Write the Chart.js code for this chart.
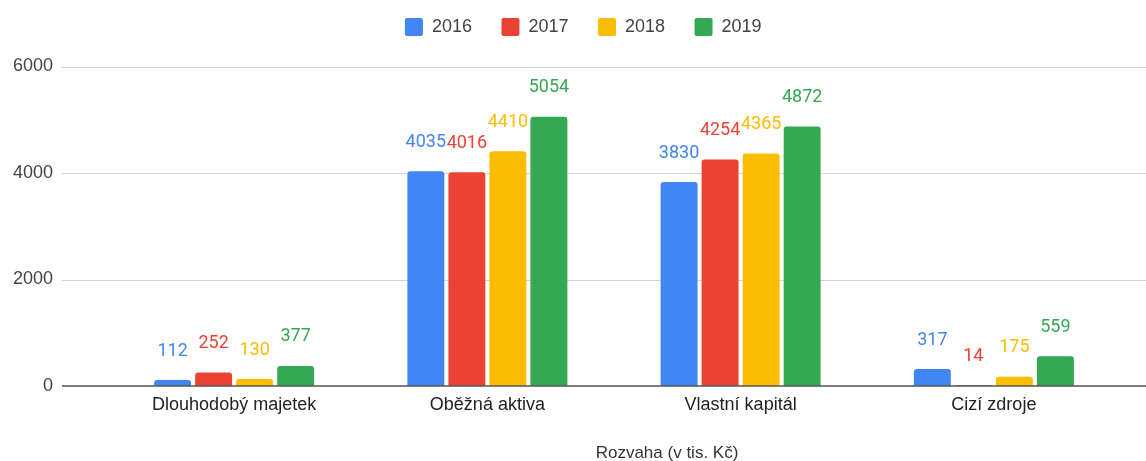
<!DOCTYPE html>
<html><head><meta charset="utf-8">
<script src="https://cdn.jsdelivr.net/npm/chart.js@4/dist/chart.umd.min.js"></script>
<style>html,body{margin:0;padding:0;background:#fff;overflow:hidden}#wrap{width:1146px;height:461px;position:relative}</style>
</head><body><div id="wrap"><canvas id="c" width="1146" height="461"></canvas></div>
<script>
const categories = ['Dlouhodobý majetek', 'Oběžná aktiva', 'Vlastní kapitál', 'Cizí zdroje'];
const seriesNames = ['2016', '2017', '2018', '2019'];
const values2016 = [112, 4035, 3830, 317];
const values2017 = [252, 4016, 4254, 14];
const values2018 = [130, 4410, 4365, 175];
const values2019 = [377, 5054, 4872, 559];
const yTicks = [0, 2000, 4000, 6000];
const xAxisTitle = 'Rozvaha (v tis. Kč)';

const seriesValues = [values2016, values2017, values2018, values2019];
const colors = ['#4285F4', '#EA4335', '#FBBC04', '#34A853'];
const baseFont = "'Liberation Sans', Arial, sans-serif";

const decorPlugin = {
  id: 'decor',
  afterLayout(chart) {
    // the original legend sits centred on a slightly wider canvas
    chart.legend.left += 23;
    chart.legend.right += 23;
  },
  beforeDatasetsDraw(chart) {
    const y = chart.scales.y, ctx = chart.ctx, area = chart.chartArea;
    ctx.save();
    ctx.strokeStyle = '#d4d4d4';
    ctx.lineWidth = 1;
    y.ticks.forEach(t => {
      if (t.value === 0) return;
      const py = Math.round(y.getPixelForValue(t.value)) + 0.5;
      ctx.beginPath();
      ctx.moveTo(area.left - 45.5, py);
      ctx.lineTo(chart.width, py);
      ctx.stroke();
    });
    ctx.restore();
  },
  afterDatasetsDraw(chart) {
    const y = chart.scales.y, ctx = chart.ctx, area = chart.chartArea;
    ctx.save();
    const p0 = y.getPixelForValue(0);
    ctx.strokeStyle = '#555';
    ctx.lineWidth = 1.6;
    ctx.beginPath();
    ctx.moveTo(area.left - 45.5, p0);
    ctx.lineTo(chart.width, p0);
    ctx.stroke();

    ctx.font = "18px Roboto, 'Liberation Sans', sans-serif";
    ctx.textAlign = 'center';
    ctx.textBaseline = 'middle';
    ctx.lineJoin = 'round';
    chart.data.datasets.forEach((ds, i) => {
      const meta = chart.getDatasetMeta(i);
      meta.data.forEach((bar, j) => {
        const txt = String(ds.data[j]);
        ctx.lineWidth = 4;
        ctx.strokeStyle = '#fff';
        ctx.strokeText(txt, bar.x, bar.y - 29);
        ctx.fillStyle = ds.backgroundColor;
        ctx.fillText(txt, bar.x, bar.y - 29);
      });
    });

    ctx.font = '17px ' + baseFont;
    ctx.fillStyle = '#333';
    ctx.textAlign = 'center';
    ctx.textBaseline = 'alphabetic';
    ctx.fillText(xAxisTitle, 667, 458);
    ctx.restore();
  }
};

new Chart(document.getElementById('c'), {
  type: 'bar',
  data: {
    labels: categories,
    datasets: seriesNames.map((name, i) => ({
      label: name,
      data: seriesValues[i],
      backgroundColor: colors[i],
      borderWidth: 0,
      borderRadius: 3,
      categoryPercentage: 0.648,
      barPercentage: 0.9
    }))
  },
  options: {
    responsive: false,
    animation: false,
    devicePixelRatio: 1,
    events: [],
    layout: { padding: { left: 0, right: 25.5, top: -11.5, bottom: 0 } },
    plugins: {
      tooltip: { enabled: false },
      title: { display: true, text: '', weight: 500, padding: 0, font: { size: 20.5, lineHeight: 1 } },
      legend: {
        position: 'top',
        labels: {
          boxWidth: 18, boxHeight: 18, padding: 29.5,
          useBorderRadius: true, borderRadius: 2,
          color: '#444',
          font: { family: baseFont, size: 18 }
        }
      }
    },
    scales: {
      x: {
        grid: { display: false, drawTicks: false },
        border: { display: false },
        ticks: { color: '#222', padding: 8, font: { family: baseFont, size: 18 }, maxRotation: 0, autoSkip: false },
        afterFit(s) { s.height = 75; }
      },
      y: {
        min: 0, max: 6000,
        afterBuildTicks(s) { s.ticks = yTicks.map(v => ({ value: v })); },
        grid: { display: false, drawTicks: false },
        border: { display: false },
        ticks: { color: '#444', padding: 54.5, font: { family: baseFont, size: 18 }, callback: v => String(v) },
        afterFit(s) { s.width = 107.5; }
      }
    }
  },
  plugins: [decorPlugin]
});
</script>
</body></html>
